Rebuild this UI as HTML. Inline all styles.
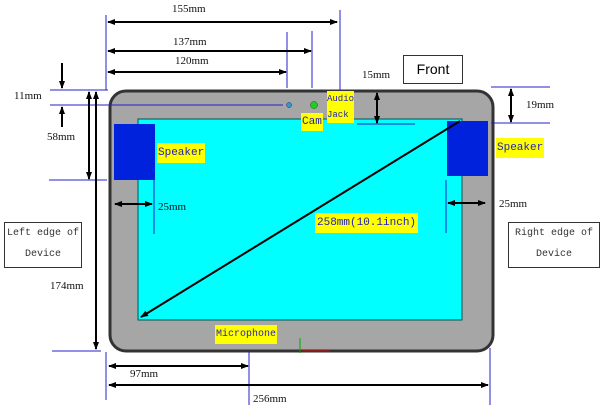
<!DOCTYPE html>
<html><head><meta charset="utf-8"><style>
body{margin:0;width:600px;height:410px;background:#fff;overflow:hidden;position:relative;font-family:"Liberation Serif",serif}
.t{position:absolute;font-size:11px;color:#111;white-space:nowrap}
.y{position:absolute;background:#ff0;color:#22b;font-family:"Liberation Mono",monospace;font-size:11px;white-space:nowrap}
.box{position:absolute;border:1px solid #333;background:#fff;text-align:center;font-family:"Liberation Mono",monospace;font-size:10px;line-height:21px;white-space:nowrap;color:#333}
</style></head><body>
<svg width="600" height="410" style="position:absolute;left:0;top:0">
<defs><marker id="a" markerWidth="8" markerHeight="8" refX="7" refY="4" orient="auto-start-reverse" markerUnits="userSpaceOnUse"><path d="M0,1 L8,4 L0,7z" fill="#000"/></marker></defs>
<rect x="110" y="91" width="383" height="260" rx="16" fill="#a6a6a6" stroke="#333" stroke-width="3"/>
<rect x="138" y="119" width="324" height="201" fill="#00ffff" stroke="#055" stroke-width="1"/>
<rect x="114" y="124" width="41" height="56" fill="#0022dd"/>
<rect x="447" y="121" width="41" height="55" fill="#0022dd"/>
<circle cx="289" cy="105" r="2.5" fill="#39c" stroke="#036" stroke-width=".5"/>
<circle cx="314" cy="105" r="3.5" fill="#2c2" stroke="#060" stroke-width=".5"/>
<g stroke="#22c" stroke-width="1">
<line x1="106" y1="15" x2="106" y2="90"/><line x1="340" y1="10" x2="340" y2="91"/>
<line x1="312" y1="31" x2="312" y2="88"/><line x1="287" y1="32" x2="287" y2="88"/>
<line x1="50" y1="90" x2="108" y2="90"/><line x1="50" y1="105" x2="283" y2="105"/>
<line x1="49" y1="180" x2="107" y2="180"/><line x1="52" y1="351" x2="101" y2="351"/>
<line x1="357" y1="124" x2="415" y2="124"/>
<line x1="491" y1="87" x2="550" y2="87"/><line x1="491" y1="123" x2="550" y2="123"/>
<line x1="154" y1="180" x2="154" y2="234"/><line x1="446" y1="180" x2="446" y2="233"/>
<line x1="249" y1="351" x2="249" y2="405"/><line x1="106" y1="352" x2="106" y2="400"/>
<line x1="490" y1="348" x2="490" y2="405"/>
</g>
<line x1="300" y1="338" x2="300" y2="353" stroke="#0a0"/>
<line x1="302" y1="351" x2="330" y2="351" stroke="#d00"/>
<g stroke="#000" stroke-width="2" fill="none">
<line x1="108" y1="22" x2="337" y2="22" marker-start="url(#a)" marker-end="url(#a)"/>
<line x1="108" y1="51" x2="311" y2="51" marker-start="url(#a)" marker-end="url(#a)"/>
<line x1="108" y1="72" x2="286" y2="72" marker-start="url(#a)" marker-end="url(#a)"/>
<line x1="62" y1="63" x2="62" y2="88" marker-end="url(#a)"/>
<line x1="62" y1="127" x2="62" y2="107" marker-end="url(#a)"/>
<line x1="89" y1="92" x2="89" y2="179" marker-start="url(#a)" marker-end="url(#a)"/>
<line x1="96" y1="92" x2="96" y2="349" marker-start="url(#a)" marker-end="url(#a)"/>
<line x1="377" y1="93" x2="377" y2="123" marker-start="url(#a)" marker-end="url(#a)"/>
<line x1="511" y1="89" x2="511" y2="122" marker-start="url(#a)" marker-end="url(#a)"/>
<line x1="115" y1="204" x2="152" y2="204" marker-start="url(#a)" marker-end="url(#a)"/>
<line x1="448" y1="203" x2="485" y2="203" marker-start="url(#a)" marker-end="url(#a)"/>
<line x1="460" y1="121" x2="141" y2="317" marker-end="url(#a)"/>
<line x1="109" y1="366" x2="248" y2="366" marker-start="url(#a)" marker-end="url(#a)"/>
<line x1="109" y1="385" x2="488" y2="385" marker-start="url(#a)" marker-end="url(#a)"/>
</g>
</svg>
<div class="t" style="left:172px;top:3px">155mm</div>
<div class="t" style="left:173px;top:36px">137mm</div>
<div class="t" style="left:175px;top:55px">120mm</div>
<div class="t" style="left:14px;top:90px">11mm</div>
<div class="t" style="left:47px;top:131px">58mm</div>
<div class="t" style="left:50px;top:280px">174mm</div>
<div class="t" style="left:362px;top:69px">15mm</div>
<div class="t" style="left:526px;top:99px">19mm</div>
<div class="t" style="left:158px;top:201px">25mm</div>
<div class="t" style="left:499px;top:198px">25mm</div>
<div class="t" style="left:130px;top:368px">97mm</div>
<div class="t" style="left:253px;top:393px">256mm</div>
<div class="box" style="left:403px;top:55px;width:58px;height:27px;line-height:27px;font-family:'Liberation Sans',sans-serif;font-size:14px;color:#000">Front</div>
<div class="box" style="left:4px;top:222px;width:76px;height:44px">Left edge of<br>Device</div>
<div class="box" style="left:508px;top:222px;width:90px;height:44px">Right edge of<br>Device</div>
<div class="y" style="left:157px;top:143px;padding:4px 1px">Speaker</div>
<div class="y" style="left:496px;top:138px;padding:4px 1px">Speaker</div>
<div class="y" style="left:301px;top:113px;padding:3px 1px">Cam</div>
<div class="y" style="left:327px;top:91px;width:27px;height:32px;font-size:9px;line-height:16px">Audio<br>Jack</div>
<div class="y" style="left:315px;top:213px;padding:4px 2px">258mm(10.1inch)</div>
<div class="y" style="left:215px;top:325px;padding:4px 1px;font-size:10px">Microphone</div>
</body></html>
